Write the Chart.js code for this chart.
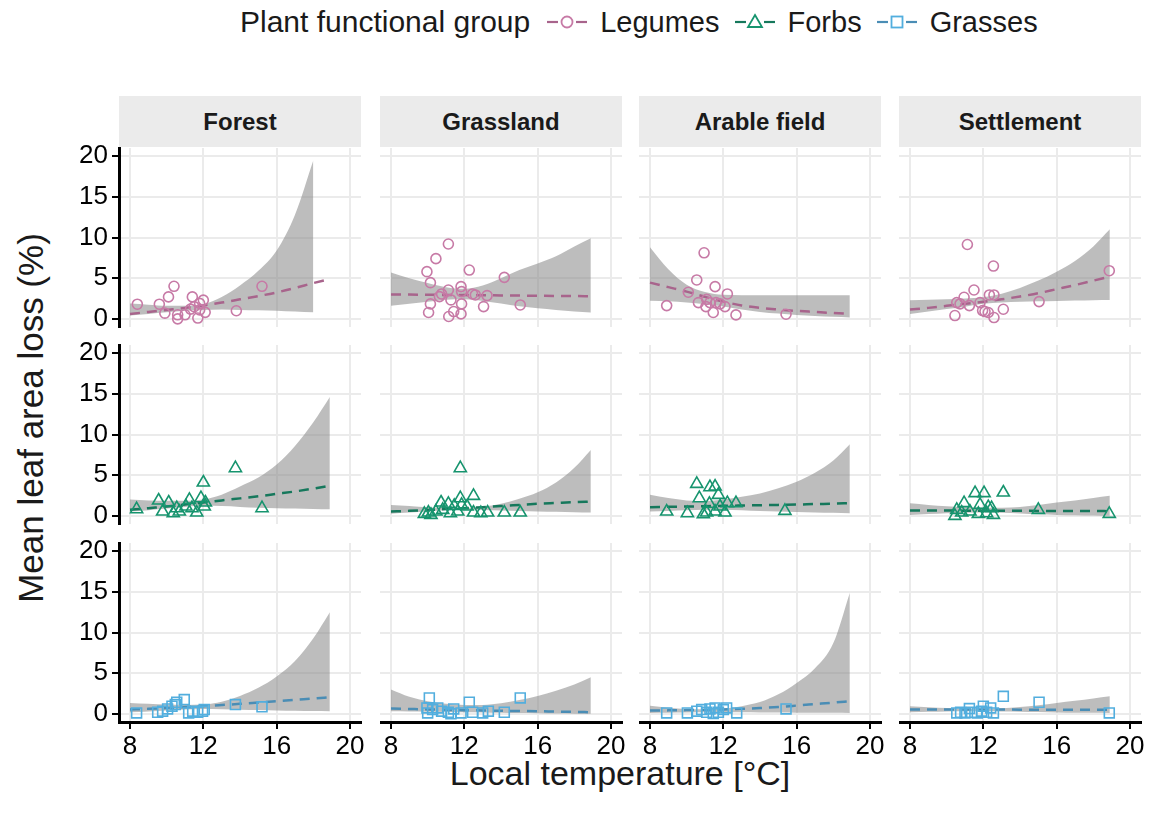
<!DOCTYPE html>
<html>
<head>
<meta charset="utf-8">
<script src="https://cdn.jsdelivr.net/npm/chart.js@4.4.1/dist/chart.umd.min.js"></script>
<style>
  body { margin: 0; background: #fff; font-family: "Liberation Sans", Arial, sans-serif; }
  #page { position: relative; width: 1160px; height: 827px; overflow: hidden; }
  canvas { position: absolute; }
  .strip { position: absolute; background: #ebebeb; font-weight: bold; font-size: 24px;
           display: flex; align-items: center; justify-content: center; color: #1a1a1a; }
  #legend { position: absolute; top: 2px; left: 240px; height: 40px; display: flex; align-items: center;
            font-size: 30px; color: #1a1a1a; white-space: nowrap; }
  #legend .item { display: flex; align-items: center; margin-left: 12px; font-size: 29px; }
  #legend svg { margin-right: 10px; }
  #xtitle { position: absolute; left: 109px; width: 1022px; top: 754px; text-align: center; font-size: 34px; color: #1a1a1a; }
  #ytitle { position: absolute; left: 31px; top: 418px; transform: translate(-50%, -50%) rotate(-90deg);
            font-size: 35px; white-space: nowrap; color: #1a1a1a; }
</style>
</head>
<body>
<div id="page">
  <div id="legend"></div>
  <div id="xtitle">Local temperature [°C]</div>
  <div id="ytitle">Mean leaf area loss (%)</div>
</div>
<script>
const habitats = ['Forest', 'Grassland', 'Arable field', 'Settlement'];
const groups = ['Legumes', 'Forbs', 'Grasses'];
const xTicks = [8, 12, 16, 20];
const yTicks = [0, 5, 10, 15, 20];
const fitTemp = [8, 9, 10, 11, 12, 13, 14, 15, 16, 17, 18, 18.9];

// observed points, one sub-array per habitat
const legumesTemp = [
  [8.4, 9.6, 9.9, 10.1, 10.4, 10.6, 10.6, 11.0, 11.4, 11.3, 11.5, 11.7, 11.8, 12.0, 12.1, 11.8, 13.8, 15.2],
  [11.13, 10.45, 9.96, 10.15, 12.27, 14.18, 11.13, 11.82, 11.85, 10.76, 10.64, 11.27, 12.45, 12.6, 13.24, 10.15, 11.85, 13.05, 15.05, 10.05, 11.42, 11.82, 11.15],
  [10.95, 10.55, 11.55, 10.09, 12.22, 8.91, 10.64, 11.09, 11.27, 11.6, 11.82, 11.05, 12.09, 11.45, 12.69, 15.42],
  [11.13, 12.55, 11.49, 10.95, 10.55, 10.73, 11.24, 11.82, 12.33, 12.58, 10.45, 11.96, 12.09, 12.27, 12.58, 13.09, 15.04, 18.87]
];
const legumesLoss = [
  [1.8, 1.8, 0.7, 2.7, 4.0, 0.5, 0.0, 0.5, 2.7, 1.2, 1.5, 0.1, 1.9, 2.3, 0.8, 1.1, 1.0, 4.0],
  [9.2, 7.4, 5.8, 4.45, 6.0, 5.1, 3.55, 3.96, 3.35, 3.06, 2.73, 2.33, 3.06, 2.94, 2.86, 1.84, 1.84, 1.51, 1.71, 0.78, 0.9, 0.61, 0.29],
  [8.12, 4.78, 3.96, 3.27, 3.06, 1.63, 2.0, 2.4, 2.0, 2.0, 1.84, 1.51, 1.51, 0.78, 0.49, 0.57],
  [9.14, 6.49, 3.55, 2.65, 2.0, 1.84, 1.63, 2.0, 2.94, 2.94, 0.41, 1.02, 0.9, 0.78, 0.16, 1.18, 2.12, 5.92]
];
const forbsTemp = [
  [8.36, 9.56, 9.78, 10.11, 10.36, 10.55, 10.69, 11.24, 11.38, 11.64, 11.87, 12.0, 12.05, 12.11, 13.75, 15.2, 11.05],
  [11.78, 12.5, 11.78, 10.73, 11.13, 11.45, 11.85, 12.15, 10.04, 10.18, 10.45, 11.24, 11.64, 12.5, 12.9, 13.27, 14.18, 15.05, 10.82, 9.82],
  [10.55, 11.27, 11.55, 11.73, 10.69, 11.24, 12.22, 12.69, 8.91, 10.04, 10.91, 11.09, 11.55, 12.09, 15.36, 11.82],
  [11.55, 12.04, 13.09, 10.95, 11.82, 12.27, 12.45, 10.55, 10.82, 11.27, 11.73, 12.18, 12.55, 10.45, 15.0, 18.87]
];
const forbsLoss = [
  [0.82, 1.89, 0.53, 1.64, 0.33, 0.94, 0.53, 1.97, 0.94, 0.41, 2.17, 4.1, 1.15, 1.64, 5.86, 0.94, 1.15],
  [5.86, 2.46, 2.17, 1.64, 1.48, 1.23, 1.35, 1.15, 0.41, 0.12, 0.53, 0.33, 0.53, 0.41, 0.33, 0.41, 0.41, 0.41, 0.74, 0.25],
  [3.93, 3.52, 3.6, 2.58, 2.17, 1.48, 1.56, 1.56, 0.53, 0.33, 0.2, 0.41, 0.53, 0.41, 0.61, 1.15],
  [2.79, 2.79, 2.87, 1.56, 1.35, 1.07, 0.94, 0.74, 0.41, 0.53, 0.25, 0.33, 0.12, 0.0, 0.74, 0.25]
];
const grassesTemp = [
  [8.36, 9.51, 9.78, 10.05, 10.29, 10.55, 10.96, 11.2, 11.42, 11.69, 11.96, 12.05, 13.75, 15.2, 10.47],
  [10.09, 12.27, 15.05, 9.96, 10.0, 10.55, 10.76, 11.13, 11.42, 11.82, 12.45, 13.0, 13.31, 14.18, 10.27, 11.27],
  [8.91, 10.04, 10.55, 10.82, 11.09, 11.27, 11.55, 11.73, 12.0, 12.18, 12.73, 15.42, 11.45],
  [13.09, 15.04, 11.24, 12.0, 12.4, 10.55, 10.76, 11.0, 11.36, 11.67, 11.91, 12.18, 12.55, 18.87]
];
const grassesLoss = [
  [0.12, 0.2, 0.33, 0.61, 0.94, 1.43, 1.76, 0.12, 0.33, 0.2, 0.33, 0.53, 1.14, 0.86, 1.14],
  [1.96, 1.43, 1.96, 0.73, 0.12, 0.73, 0.33, 0.2, 0.61, 0.12, 0.2, 0.12, 0.33, 0.2, 0.53, 0.0],
  [0.12, 0.12, 0.33, 0.53, 0.2, 0.61, 0.73, 0.2, 0.53, 0.73, 0.12, 0.61, 0.04],
  [2.16, 1.43, 0.65, 0.94, 0.73, 0.12, 0.2, 0.12, 0.2, 0.12, 0.33, 0.2, 0.12, 0.12]
];

// fitted curve and confidence band at fitTemp
const legumesFit = [
  [0.6, 0.85, 1.1, 1.35, 1.65, 2.0, 2.4, 2.8, 3.25, 3.8, 4.4, 4.9],
  [3.0, 2.98, 2.96, 2.94, 2.92, 2.9, 2.88, 2.86, 2.84, 2.82, 2.8, 2.78],
  [4.45, 3.9, 3.35, 2.7, 2.12, 1.65, 1.35, 1.15, 0.98, 0.85, 0.72, 0.61],
  [1.15, 1.35, 1.6, 1.85, 2.1, 2.4, 2.75, 3.15, 3.65, 4.15, 4.7, 5.2]
];
const legumesUpper = [
  [1.9, 1.75, 1.6, 1.6, 1.8, 2.7, 4.1, 5.9, 8.4, 12.8, 19.5, null],
  [5.7, 5.0, 4.4, 3.9, 3.7, 4.1, 5.0, 6.0, 6.8, 7.7, 8.9, 9.9],
  [8.8, 6.1, 4.2, 3.3, 2.95, 2.9, 2.9, 2.9, 2.9, 2.9, 2.9, 2.9],
  [2.3, 2.35, 2.4, 2.5, 2.65, 3.1, 3.8, 4.7, 5.8, 7.1, 8.9, 11.0]
];
const legumesLower = [
  [0.4, 0.6, 0.8, 1.0, 1.1, 1.15, 1.1, 1.05, 1.0, 0.9, 0.8, null],
  [1.6, 1.85, 2.1, 2.35, 2.4, 2.2, 1.9, 1.55, 1.3, 1.1, 0.9, 0.78],
  [2.24, 2.15, 2.0, 1.8, 1.51, 1.15, 0.85, 0.65, 0.49, 0.35, 0.25, 0.16],
  [0.6, 0.9, 1.2, 1.5, 1.85, 2.0, 2.1, 2.15, 2.2, 2.25, 2.3, 2.33]
];
const forbsFit = [
  [0.74, 0.95, 1.15, 1.4, 1.64, 1.9, 2.15, 2.4, 2.7, 3.0, 3.35, 3.7],
  [0.53, 0.62, 0.72, 0.83, 0.94, 1.07, 1.2, 1.34, 1.48, 1.58, 1.68, 1.76],
  [1.07, 1.11, 1.15, 1.19, 1.23, 1.27, 1.31, 1.35, 1.39, 1.45, 1.5, 1.56],
  [0.66, 0.65, 0.65, 0.64, 0.63, 0.63, 0.62, 0.61, 0.61, 0.6, 0.59, 0.58]
];
const forbsUpper = [
  [2.0, 1.9, 1.85, 1.85, 2.0, 2.6, 3.6, 4.7, 6.3, 8.6, 11.5, 14.6],
  [1.35, 1.2, 1.05, 0.97, 0.96, 1.15, 1.5, 2.1, 2.9, 4.1, 5.9, 8.1],
  [2.6, 2.2, 1.9, 1.8, 2.0, 2.35, 2.75, 3.4, 4.2, 5.3, 6.8, 8.8],
  [1.56, 1.35, 1.17, 1.05, 1.0, 1.0, 1.1, 1.35, 1.64, 1.9, 2.2, 2.46]
];
const forbsLower = [
  [0.53, 0.7, 0.9, 1.1, 1.23, 1.2, 1.1, 1.0, 0.95, 0.9, 0.85, 0.82],
  [0.25, 0.4, 0.55, 0.68, 0.74, 0.72, 0.66, 0.6, 0.55, 0.5, 0.45, 0.41],
  [0.53, 0.6, 0.68, 0.74, 0.75, 0.7, 0.6, 0.53, 0.47, 0.42, 0.37, 0.33],
  [0.12, 0.22, 0.32, 0.38, 0.41, 0.38, 0.3, 0.2, 0.12, 0.07, 0.03, 0.0]
];
const grassesFit = [
  [0.53, 0.62, 0.72, 0.83, 0.94, 1.08, 1.23, 1.39, 1.55, 1.72, 1.88, 2.04],
  [0.65, 0.6, 0.55, 0.5, 0.45, 0.42, 0.38, 0.35, 0.33, 0.28, 0.24, 0.2],
  [0.41, 0.43, 0.46, 0.5, 0.55, 0.62, 0.72, 0.85, 1.02, 1.2, 1.38, 1.55],
  [0.55, 0.55, 0.54, 0.54, 0.53, 0.53, 0.52, 0.52, 0.51, 0.51, 0.5, 0.5]
];
const grassesUpper = [
  [1.35, 1.25, 1.15, 1.1, 1.15, 1.5, 2.2, 3.2, 4.6, 6.5, 9.3, 12.5],
  [3.0, 2.1, 1.55, 1.25, 1.1, 1.1, 1.3, 1.7, 2.2, 2.85, 3.6, 4.5],
  [1.0, 0.75, 0.6, 0.56, 0.65, 0.95, 1.45, 2.4, 3.8, 5.6, 8.7, 14.9],
  [0.94, 0.82, 0.72, 0.64, 0.62, 0.7, 0.85, 1.05, 1.35, 1.6, 1.9, 2.15]
];
const grassesLower = [
  [0.2, 0.3, 0.42, 0.53, 0.61, 0.58, 0.52, 0.46, 0.42, 0.38, 0.35, 0.33],
  [0.33, 0.3, 0.27, 0.24, 0.2, 0.17, 0.13, 0.1, 0.07, 0.04, 0.02, 0.0],
  [0.12, 0.15, 0.18, 0.2, 0.2, 0.19, 0.18, 0.16, 0.15, 0.14, 0.13, 0.12],
  [0.2, 0.25, 0.3, 0.32, 0.33, 0.3, 0.27, 0.22, 0.18, 0.15, 0.13, 0.12]
];

const groupData = [
  { temp: legumesTemp, loss: legumesLoss, fit: legumesFit, up: legumesUpper, lo: legumesLower,
    style: 'circle', radius: 5, color: '#c77aa6', line: '#a8648c' },
  { temp: forbsTemp, loss: forbsLoss, fit: forbsFit, up: forbsUpper, lo: forbsLower,
    style: 'triangle', radius: 7, color: '#16946e', line: '#16785c' },
  { temp: grassesTemp, loss: grassesLoss, fit: grassesFit, up: grassesUpper, lo: grassesLower,
    style: 'rect', radius: 7, color: '#52aede', line: '#4a8db5' }
];

// layout of the facet grid
const panelLeft = [119, 380, 639, 899];
const panelTop = [148, 345, 543];
const panelW = 242, panelH = 179;
const yAxisW = 100, xAxisH = 50, overhang = 16;
const tickFont = { family: '"Liberation Sans", Arial, sans-serif', size: 26 };

const page = document.getElementById('page');

habitats.forEach((h, c) => {
  const s = document.createElement('div');
  s.className = 'strip';
  s.style.left = panelLeft[c] + 'px';
  s.style.top = '96px';
  s.style.width = panelW + 'px';
  s.style.height = '51px';
  s.textContent = h;
  page.appendChild(s);
});

function pairs(xs, ys) {
  return xs.map((x, i) => ({ x: x, y: ys[i] }));
}

groups.forEach((g, r) => {
  const gd = groupData[r];
  habitats.forEach((h, c) => {
    const showY = c === 0, showX = r === 2;
    // extra room so the outer tick labels are not cut by the canvas edge
    const pad = {
      left: 0,
      top: showY ? overhang : 0,
      bottom: (showY && !showX) ? overhang : 0,
      right: showX ? overhang : 0
    };
    const cv = document.createElement('canvas');
    cv.width = panelW + (showY ? yAxisW : 0) + pad.right;
    cv.height = panelH + (showX ? xAxisH : 0) + pad.top + pad.bottom;
    cv.style.left = (panelLeft[c] - (showY ? yAxisW : 0)) + 'px';
    cv.style.top = (panelTop[r] - pad.top) + 'px';
    page.appendChild(cv);

    new Chart(cv, {
      type: 'scatter',
      data: {
        datasets: [
          {
            label: g, data: pairs(gd.temp[c], gd.loss[c]), order: 0,
            pointStyle: gd.style, pointRadius: gd.radius, pointBorderWidth: 1.6,
            pointBorderColor: gd.color, pointBackgroundColor: 'rgba(0,0,0,0)'
          },
          {
            label: 'fit', data: pairs(fitTemp, gd.fit[c]), order: 1, showLine: true,
            pointRadius: 0, borderColor: gd.line, borderWidth: 2.5, borderDash: [10, 7],
            cubicInterpolationMode: 'monotone'
          },
          {
            label: 'upper', data: pairs(fitTemp, gd.up[c]), order: 2, showLine: true,
            pointRadius: 0, borderWidth: 0, borderColor: 'rgba(0,0,0,0)',
            backgroundColor: 'rgba(135,135,135,0.55)', fill: '+1',
            cubicInterpolationMode: 'monotone'
          },
          {
            label: 'lower', data: pairs(fitTemp, gd.lo[c]), order: 3, showLine: true,
            pointRadius: 0, borderWidth: 0, borderColor: 'rgba(0,0,0,0)',
            cubicInterpolationMode: 'monotone'
          }
        ]
      },
      options: {
        responsive: false, animation: false, devicePixelRatio: 1,
        layout: { padding: pad, autoPadding: false },
        plugins: { legend: { display: false }, tooltip: { enabled: false } },
        scales: {
          x: {
            type: 'linear', min: 7.4, max: 20.6,
            afterBuildTicks: s => { s.ticks = xTicks.map(v => ({ value: v })); },
            ticks: { display: showX, font: tickFont, color: '#000', padding: 2, maxRotation: 0 },
            grid: { color: '#ebebeb', lineWidth: 2, drawTicks: showX, tickLength: 7, tickColor: '#000', tickWidth: 2 },
            border: { display: showX, color: '#000', width: 3 },
            afterFit: s => {
              s.height = showX ? xAxisH : 0;
              s.paddingLeft = 0; s.paddingRight = 0;
            }
          },
          y: {
            min: -1, max: 21,
            afterBuildTicks: s => { s.ticks = yTicks.map(v => ({ value: v })); },
            ticks: { display: showY, font: tickFont, color: '#000', padding: 4 },
            grid: { color: '#ebebeb', lineWidth: 2, drawTicks: showY, tickLength: 7, tickColor: '#000', tickWidth: 2 },
            border: { display: showY, color: '#000', width: 3 },
            afterFit: s => {
              s.width = showY ? yAxisW : 0;
              s.paddingTop = 0; s.paddingBottom = 0;
            }
          }
        }
      }
    });
  });
});

// legend
const legend = document.getElementById('legend');
const lt = document.createElement('span');
lt.textContent = 'Plant functional group';
lt.style.marginRight = '2px';
legend.appendChild(lt);
const icons = [
  '<circle cx="23" cy="15" r="5.5" fill="none" stroke="#c77aa6" stroke-width="1.8"/>',
  '<polygon points="23,8 30,20 16,20" fill="none" stroke="#16946e" stroke-width="1.8"/>',
  '<rect x="17.5" y="9.5" width="11" height="11" fill="none" stroke="#52aede" stroke-width="1.8"/>'
];
groups.forEach((g, i) => {
  const gd = groupData[i];
  const it = document.createElement('span');
  it.className = 'item';
  it.innerHTML = '<svg width="46" height="30" viewBox="0 0 46 30">' +
    '<line x1="3" y1="15" x2="14" y2="15" stroke="' + gd.line + '" stroke-width="2.2"/>' +
    '<line x1="32" y1="15" x2="43" y2="15" stroke="' + gd.line + '" stroke-width="2.2"/>' +
    icons[i] + '</svg><span>' + g + '</span>';
  legend.appendChild(it);
});
</script>
</body>
</html>
